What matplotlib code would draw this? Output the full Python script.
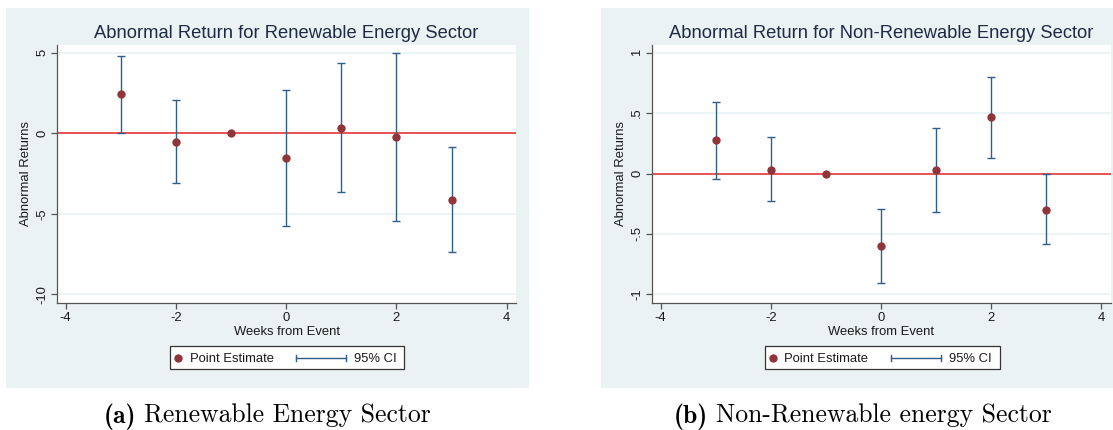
import numpy as np
import matplotlib
matplotlib.use("Agg")
import matplotlib.pyplot as plt
from matplotlib.patches import Rectangle
from matplotlib.lines import Line2D

# ---------------- data ----------------
weeks = [-3, -2, -1, 0, 1, 2, 3]

ren_est = [2.44, -0.54, 0.0, -1.55, 0.33, -0.25, -4.15]
ren_lo = [0.04, -3.12, np.nan, -5.75, -3.66, -5.44, -7.36]
ren_hi = [4.81, 2.08, np.nan, 2.66, 4.34, 4.96, -0.83]

nren_est = [0.274, 0.03, 0.0, -0.60, 0.03, 0.465, -0.30]
nren_lo = [-0.047, -0.23, np.nan, -0.91, -0.32, 0.13, -0.587]
nren_hi = [0.594, 0.30, np.nan, -0.29, 0.38, 0.80, 0.0]

xticks = [-4, -2, 0, 2, 4]
xticklabels = ["-4", "-2", "0", "2", "4"]
ren_yticks = [-10, -5, 0, 5]
ren_yticklabels = ["-10", "-5", "0", "5"]
nren_yticks = [-1, -0.5, 0, 0.5, 1]
nren_yticklabels = ["-1", "-.5", "0", ".5", "1"]

titles = ["Abnormal Return for Renewable Energy Sector",
          "Abnormal Return for Non-Renewable Energy Sector"]
cap_tags = ["(a)", "(b)"]
cap_texts = ["Renewable Energy Sector", "Non-Renewable energy Sector"]

# ---------------- style ----------------
W, H = 1113, 430
BG = "#EAF2F3"
GRID = "#EAF2F3"
RED = "#E8262B"
CI = "#2F5E8C"
PT = "#903539"
SPINE = "#555555"
TXT = "#1a1a1a"
TTL = "#1f2a44"
FONT = "Liberation Sans"

plt.rcParams["font.family"] = FONT

fig = plt.figure(figsize=(W / 100, H / 100), dpi=100)
fig.patch.set_facecolor("white")


def fx(px):
    return px / W


def fy(py):
    return 1 - py / H


def add_rect(x0, y0, x1, y1, **kw):
    r = Rectangle((fx(x0), fy(y1)), fx(x1) - fx(x0), fy(y0) - fy(y1),
                  transform=fig.transFigure, **kw)
    fig.patches.append(r)
    return r


panels = [
    dict(bg=(6, 8, 529, 388), ax=(57.3, 45, 516, 302.5),
         xlim=(-4.152, 4.169), ylim=(-10.51, 5.48),
         est=ren_est, lo=ren_lo, hi=ren_hi,
         yt=ren_yticks, ytl=ren_yticklabels,
         leg=(170, 345.7, 404, 369.3), cap_x=267.5),
    dict(bg=(601, 8, 1124, 388), ax=(652.3, 45, 1110.5, 302.5),
         xlim=(-4.152, 4.165), ylim=(-1.068, 1.064),
         est=nren_est, lo=nren_lo, hi=nren_hi,
         yt=nren_yticks, ytl=nren_yticklabels,
         leg=(765, 345.7, 999.7, 369.3), cap_x=862.5),
]

fig.canvas.draw()
renderer = fig.canvas.get_renderer()

for i, p in enumerate(panels):
    add_rect(*p["bg"], facecolor=BG, edgecolor="none", zorder=-5)
    x0, y0, x1, y1 = p["ax"]
    ax = fig.add_axes([fx(x0), fy(y1), fx(x1) - fx(x0), fy(y0) - fy(y1)])
    ax.set_facecolor("white")
    ax.set_xlim(*p["xlim"])
    ax.set_ylim(*p["ylim"])
    for s in ["top", "right"]:
        ax.spines[s].set_visible(False)
    for s in ["left", "bottom"]:
        ax.spines[s].set_color(SPINE)
        ax.spines[s].set_linewidth(0.9)
    ax.set_xticks(xticks)
    ax.set_xticklabels(xticklabels)
    ax.set_yticks(p["yt"])
    ax.set_yticklabels(p["ytl"], rotation=90, va="center")
    ax.tick_params(axis="both", length=4, width=0.9, color=SPINE,
                   labelsize=9.4, labelcolor=TXT, pad=2.5)
    ax.grid(axis="y", color=GRID, linewidth=1.2, zorder=0)
    ax.set_axisbelow(True)
    ax.axhline(0, color=RED, linewidth=1.1, zorder=2)

    est = np.array(p["est"], dtype=float)
    lo = np.array(p["lo"], dtype=float)
    hi = np.array(p["hi"], dtype=float)
    xs = np.array(weeks, dtype=float)
    ok = ~np.isnan(lo)
    ax.errorbar(xs[ok], est[ok], yerr=[est[ok] - lo[ok], hi[ok] - est[ok]],
                fmt="none", ecolor=CI, elinewidth=1.0, capsize=3.2,
                capthick=1.0, zorder=3)
    ax.plot(xs, est, "o", color=PT, markersize=6.0, markeredgewidth=0,
            zorder=4)

    ax.set_xlabel("Weeks from Event", fontsize=9.4, color=TXT, labelpad=1.5)
    ax.set_ylabel("Abnormal Returns", fontsize=9.4, color=TXT, labelpad=3)

    # title
    fig.text(fx((x0 + x1) / 2), fy(33), titles[i], ha="center", va="center",
             fontsize=13.2, color=TTL)

    # legend (manual)
    lx0, ly0, lx1, ly1 = p["leg"]
    add_rect(lx0, ly0, lx1, ly1, facecolor="white", edgecolor="#333333",
             linewidth=0.9, zorder=5)
    cy = fy((ly0 + ly1) / 2)
    fig.lines.append(Line2D([fx(lx0 + 7.8)], [cy], marker="o", color=PT,
                            markersize=6.0, markeredgewidth=0,
                            transform=fig.transFigure, zorder=6))
    fig.text(fx(lx0 + 19.5), cy, "Point Estimate", ha="left",
             va="center_baseline", fontsize=9.4, color=TXT, zorder=6)
    a, b = lx0 + 126, lx0 + 176
    fig.lines.append(Line2D([fx(a), fx(b)], [cy, cy], color=CI, lw=1.0,
                            transform=fig.transFigure, zorder=6))
    for xx in (a, b):
        fig.lines.append(Line2D([fx(xx), fx(xx)], [cy - 3 / H, cy + 3 / H],
                                color=CI, lw=1.0,
                                transform=fig.transFigure, zorder=6))
    fig.text(fx(lx0 + 184), cy, "95% CI", ha="left", va="center_baseline",
             fontsize=9.4, color=TXT, zorder=6)

    # caption: bold tag + roman text, centred together
    t1 = fig.text(0, fy(413), cap_tags[i], ha="left", va="center_baseline",
                  fontsize=18.5, family="cmb10", color="black")
    t2 = fig.text(0, fy(413), cap_texts[i], ha="left", va="center_baseline",
                  fontsize=18.5, family="cmr10", color="black")
    w1 = t1.get_window_extent(renderer).width
    w2 = t2.get_window_extent(renderer).width
    gap = 8.0
    total = w1 + gap + w2
    start = p["cap_x"] - total / 2
    t1.set_x(fx(start))
    t2.set_x(fx(start + w1 + gap))

fig.savefig("out.png", dpi=100)
